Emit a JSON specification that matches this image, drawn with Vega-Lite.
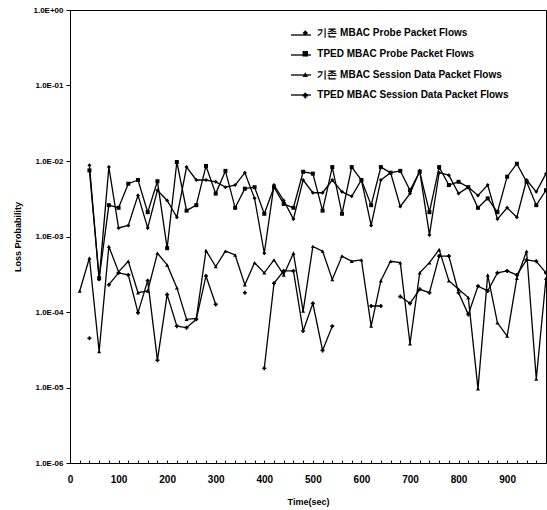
{
  "$schema": "https://vega.github.io/schema/vega-lite/v6.json",
  "width": 476,
  "height": 453,
  "autosize": {"type": "none"},
  "padding": {"left": 70, "top": 10, "right": 1, "bottom": 47},
  "background": "white",
  "config": {
    "view": {"stroke": "black", "strokeWidth": 1},
    "font": "Liberation Sans",
    "axis": {"domainColor": "black", "tickColor": "black", "labelColor": "black", "titleColor": "black", "grid": false},
    "legend": {"padding": 0}
  },
  "data": {
    "values": [
      {"t": 20, "lp": null, "tp": null, "ls": 0.00019, "ts": null},
      {"t": 40, "lp": 0.0088, "tp": 0.0075, "ls": 0.00052, "ts": 0.000045},
      {"t": 60, "lp": 0.00027, "tp": 0.00028, "ls": 0.00003, "ts": null},
      {"t": 80, "lp": 0.0083, "tp": 0.0026, "ls": 0.00074, "ts": 0.00023},
      {"t": 100, "lp": 0.0013, "tp": 0.0024, "ls": 0.00034, "ts": 0.00033},
      {"t": 120, "lp": 0.0014, "tp": 0.005, "ls": 0.00047, "ts": 0.00031},
      {"t": 140, "lp": 0.0035, "tp": 0.0056, "ls": 0.00018, "ts": 0.000098},
      {"t": 160, "lp": 0.0013, "tp": 0.0021, "ls": 0.00019, "ts": 0.00026},
      {"t": 180, "lp": 0.0041, "tp": 0.0054, "ls": 0.0006, "ts": 0.000023},
      {"t": 200, "lp": 0.003, "tp": 0.0007, "ls": 0.00042, "ts": 0.00017},
      {"t": 220, "lp": 0.0018, "tp": 0.0097, "ls": 0.00021, "ts": 0.000065},
      {"t": 240, "lp": 0.0083, "tp": 0.0022, "ls": 0.00008, "ts": 0.000062},
      {"t": 260, "lp": 0.0056, "tp": 0.0026, "ls": 0.000082, "ts": 0.00008},
      {"t": 280, "lp": 0.0056, "tp": 0.0086, "ls": 0.00065, "ts": 0.0003},
      {"t": 300, "lp": 0.0053, "tp": 0.0037, "ls": 0.0004, "ts": 0.000126},
      {"t": 320, "lp": 0.0045, "tp": 0.0074, "ls": 0.00064, "ts": null},
      {"t": 340, "lp": 0.0048, "tp": 0.0024, "ls": 0.00057, "ts": null},
      {"t": 360, "lp": 0.007, "tp": 0.0043, "ls": 0.00023, "ts": 0.00018},
      {"t": 380, "lp": 0.0032, "tp": 0.0045, "ls": 0.00045, "ts": null},
      {"t": 400, "lp": 0.0006, "tp": 0.002, "ls": 0.00033, "ts": 0.000018},
      {"t": 420, "lp": 0.0048, "tp": 0.0045, "ls": 0.00049, "ts": 0.00024},
      {"t": 440, "lp": 0.003, "tp": 0.0027, "ls": 0.00031, "ts": 0.00035},
      {"t": 460, "lp": 0.0017, "tp": 0.0024, "ls": 0.0006, "ts": 0.00035},
      {"t": 480, "lp": 0.0056, "tp": 0.0072, "ls": 0.000103, "ts": 0.000056},
      {"t": 500, "lp": 0.0038, "tp": 0.0068, "ls": 0.00074, "ts": 0.00013},
      {"t": 520, "lp": 0.0038, "tp": 0.0022, "ls": 0.00064, "ts": 0.000031},
      {"t": 540, "lp": 0.0056, "tp": 0.0083, "ls": 0.00027, "ts": 0.000065},
      {"t": 560, "lp": 0.0039, "tp": 0.002, "ls": 0.00055, "ts": null},
      {"t": 580, "lp": 0.0034, "tp": 0.0083, "ls": 0.00047, "ts": null},
      {"t": 600, "lp": 0.0056, "tp": 0.0056, "ls": 0.00049, "ts": null},
      {"t": 620, "lp": 0.0014, "tp": 0.0026, "ls": 0.000065, "ts": 0.00012},
      {"t": 640, "lp": 0.0056, "tp": 0.0083, "ls": 0.00026, "ts": 0.00012},
      {"t": 660, "lp": 0.007, "tp": 0.007, "ls": 0.00047, "ts": null},
      {"t": 680, "lp": 0.0025, "tp": 0.0074, "ls": 0.00045, "ts": 0.00016},
      {"t": 700, "lp": 0.0037, "tp": 0.0041, "ls": 0.000038, "ts": 0.00013},
      {"t": 720, "lp": 0.0074, "tp": 0.0072, "ls": 0.00033, "ts": 0.0002},
      {"t": 740, "lp": 0.00105, "tp": 0.0021, "ls": 0.00045, "ts": 0.00018},
      {"t": 760, "lp": 0.007, "tp": 0.0083, "ls": 0.00067, "ts": 0.00055},
      {"t": 780, "lp": 0.0065, "tp": 0.0048, "ls": 0.00026, "ts": 0.00055},
      {"t": 800, "lp": 0.0037, "tp": 0.0053, "ls": 0.0002, "ts": 0.00018},
      {"t": 820, "lp": 0.0045, "tp": 0.0045, "ls": 0.000155, "ts": 0.000093},
      {"t": 840, "lp": 0.0035, "tp": 0.0024, "ls": 0.0000096, "ts": 0.00022},
      {"t": 860, "lp": 0.0048, "tp": 0.0032, "ls": 0.00031, "ts": 0.00019},
      {"t": 880, "lp": 0.0017, "tp": 0.0021, "ls": 0.000072, "ts": 0.00033},
      {"t": 900, "lp": 0.0024, "tp": 0.0062, "ls": 0.000048, "ts": 0.00035},
      {"t": 920, "lp": 0.0018, "tp": 0.0092, "ls": 0.00028, "ts": 0.00031},
      {"t": 940, "lp": 0.0056, "tp": 0.0053, "ls": 0.00064, "ts": 0.00049},
      {"t": 960, "lp": 0.0039, "tp": 0.0026, "ls": 0.000013, "ts": 0.00047},
      {"t": 980, "lp": 0.0068, "tp": 0.0041, "ls": 0.00028, "ts": 0.00033}
    ]
  },
  "transform": [
    {"fold": ["lp", "tp", "ls", "ts"], "as": ["series", "v"]},
    {"calculate": "datum.series + '_line'", "as": "key"}
  ],
  "encoding": {
    "x": {
      "field": "t",
      "type": "quantitative",
      "scale": {"domain": [0, 980], "nice": false, "zero": false},
      "axis": {
        "title": "Time(sec)",
        "values": [0, 20, 40, 60, 80, 100, 120, 140, 160, 180, 200, 220, 240, 260, 280, 300, 320, 340, 360, 380, 400, 420, 440, 460, 480, 500, 520, 540, 560, 580, 600, 620, 640, 660, 680, 700, 720, 740, 760, 780, 800, 820, 840, 860, 880, 900, 920, 940, 960],
        "labelExpr": "datum.value % 100 === 0 ? datum.value : ''",
        "tickSize": -3,
        "labelPadding": 14,
        "labelFontSize": 10,
        "labelFontWeight": "bold",
        "titleFontSize": 9,
        "titleFontWeight": "bold",
        "titlePadding": 13,
        "labelFlush": false,
        "labelOverlap": false
      }
    },
    "y": {
      "field": "v",
      "type": "quantitative",
      "scale": {"type": "log", "domain": [0.000001, 1], "nice": false},
      "axis": {
        "title": "Loss Probability",
        "values": [0.000001, 0.00001, 0.0001, 0.001, 0.01, 0.1, 1],
        "labelExpr": "'1.0E' + (datum.value >= 1 ? '+00' : '-0' + round(-log(datum.value) / LN10))",
        "tickSize": 4,
        "labelPadding": 3,
        "labelFontSize": 8,
        "labelFontWeight": "bold",
        "titleFontSize": 9,
        "titleFontWeight": "bold",
        "titlePadding": 10
      }
    }
  },
  "layer": [
    {
      "mark": {"type": "line", "strokeWidth": 1.3, "invalid": "break-paths-filter-domains"},
      "encoding": {
        "color": {
          "field": "key",
          "type": "nominal",
          "scale": {"domain": ["lp_line", "tp_line", "ls_line", "ts_line"], "range": ["black", "black", "black", "black"]},
          "legend": {
            "orient": "none",
            "legendX": 220,
            "legendY": 14,
            "title": null,
            "symbolType": "stroke",
            "symbolSize": 400,
            "symbolStrokeWidth": 1.3,
            "symbolStrokeColor": "black",
            "labelExpr": "''",
            "labelFontSize": 10,
            "rowPadding": 4
          }
        }
      }
    },
    {
      "mark": {"type": "point", "filled": true, "color": "black", "size": 16, "opacity": 1},
      "encoding": {
        "shape": {
          "field": "series",
          "type": "nominal",
          "scale": {"domain": ["lp", "tp", "ls", "ts"], "range": ["diamond", "square", "triangle-up", "cross"]},
          "legend": {
            "orient": "none",
            "legendX": 230.3,
            "legendY": 18,
            "title": null,
            "labelExpr": "datum.value === 'lp' ? '기존 MBAC Probe Packet Flows' : datum.value === 'tp' ? 'TPED MBAC Probe Packet Flows' : datum.value === 'ls' ? '기존 MBAC Session Data Packet Flows' : 'TPED MBAC Session Data Packet Flows'",
            "labelFontSize": 10,
            "labelFontWeight": "bold",
            "labelColor": "black",
            "labelOffset": 7,
            "symbolFillColor": "black",
            "symbolStrokeColor": "black",
            "symbolSize": 30,
            "rowPadding": 8.8,
            "labelLimit": 300
          }
        }
      }
    }
  ]
}
